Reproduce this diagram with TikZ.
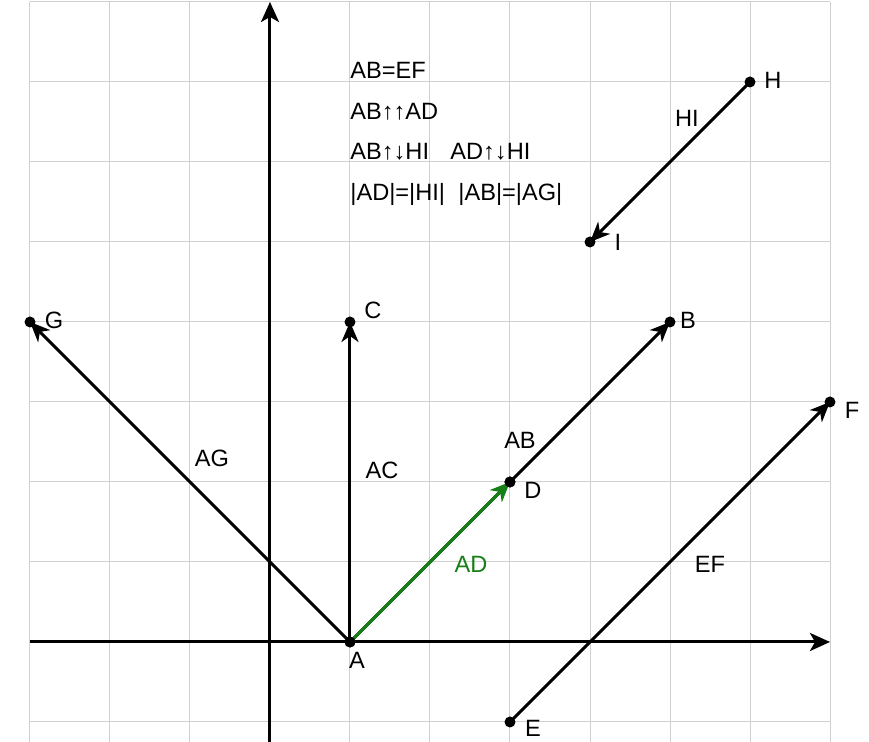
\documentclass[tikz,border=0pt]{standalone}
\usepackage{fontspec}
\setmainfont{Liberation Sans}
\usetikzlibrary{arrows.meta}
\definecolor{gridgray}{RGB}{208,208,208}
\definecolor{adgreen}{RGB}{22,128,22}
\tikzset{
  gridline/.style={draw=gridgray, line width=0.5pt},
  axis/.style={line width=1.5pt, -{Stealth[length=10pt,width=9pt,inset=2.5pt]}},
  vec/.style={line width=1.5pt, -{Stealth[length=10pt,width=8.5pt,inset=3pt]}},
  pt/.style={circle, fill=black, inner sep=0pt, minimum size=5.5pt},
  lbl/.style={inner sep=0pt, font=\fontsize{11.8}{13}\selectfont},
  txt/.style={inner sep=0pt, anchor=west, font=\fontsize{11.8}{13}\selectfont}
}
\begin{document}
\begin{tikzpicture}[x=40pt,y=40pt]
\useasboundingbox (-3.375,-1.25) rectangle (7.4875,8.025);
\fill[white] (-3.375,-1.25) rectangle (7.4875,8.025);
\foreach \gx in {-3,...,7} \draw[gridline] (\gx,-1.25) -- (\gx,8);
\foreach \gy in {-1,...,8} \draw[gridline] (-3,\gy) -- (7,\gy);
\draw[axis] (-3,0) -- (7,0);
\draw[axis] (0,-1.25) -- (0,8);
% points
\node[pt] (A) at (1,0) {};
\node[pt] (B) at (5,4) {};
\node[pt] (C) at (1,4) {};
\node[pt] (D) at (3,2) {};
\node[pt] (E) at (3,-1) {};
\node[pt] (F) at (7,3) {};
\node[pt] (G) at (-3,4) {};
\node[pt] (H) at (6,7) {};
\node[pt] (I) at (4,5) {};
% vectors
\draw[vec] (A.center) -- (G.center);
\draw[vec] (A.center) -- (C.center);
\draw[vec] (A.center) -- (B.center);
\draw[vec] (E.center) -- (F.center);
\draw[vec] (H.center) -- (I.center);
\draw[vec, draw=adgreen, fill=adgreen] (A.center) -- (D.center);
\node[pt] at (A) {};
\node[pt] at (D) {};
% point labels
\node[lbl] (lA) at (1.0875,-0.225) {A};
\node[lbl] (lB) at (5.225,4.025) {B};
\node[lbl] (lC) at (1.2875,4.15) {C};
\node[lbl] (lD) at (3.2875,1.9) {D};
\node[lbl] (lE) at (3.2875,-1.075) {E};
\node[lbl] (lF) at (7.275,2.9) {F};
\node[lbl] (lG) at (-2.7,4.025) {G};
\node[lbl] (lH) at (6.2875,7.025) {H};
\node[lbl] (lI) at (4.35,5.0) {I};
% vector labels
\node[lbl] (lHI) at (5.2125,6.55) {HI};
\node[lbl] (lAB) at (3.125,2.525) {AB};
\node[lbl] (lAC) at (1.4,2.15) {AC};
\node[lbl] (lAG) at (-0.725,2.3) {AG};
\node[lbl, text=adgreen] (lAD) at (2.5125,0.975) {AD};
\node[lbl] (lEF) at (5.5,0.975) {EF};
% text block
\node[txt] (t1) at (1.0,7.15) {AB=EF};
\node[txt] (t2) at (1.0,6.625) {AB↑↑AD};
\node[txt] (t3) at (1.0,6.125) {AB↑↓HI};
\node[txt] (t3b) at (2.25,6.125) {AD↑↓HI};
\node[txt] (t4) at (1.0,5.6) {|AD|=|HI|};
\node[txt] (t4b) at (2.35,5.6) {|AB|=|AG|};
\end{tikzpicture}
\end{document}
